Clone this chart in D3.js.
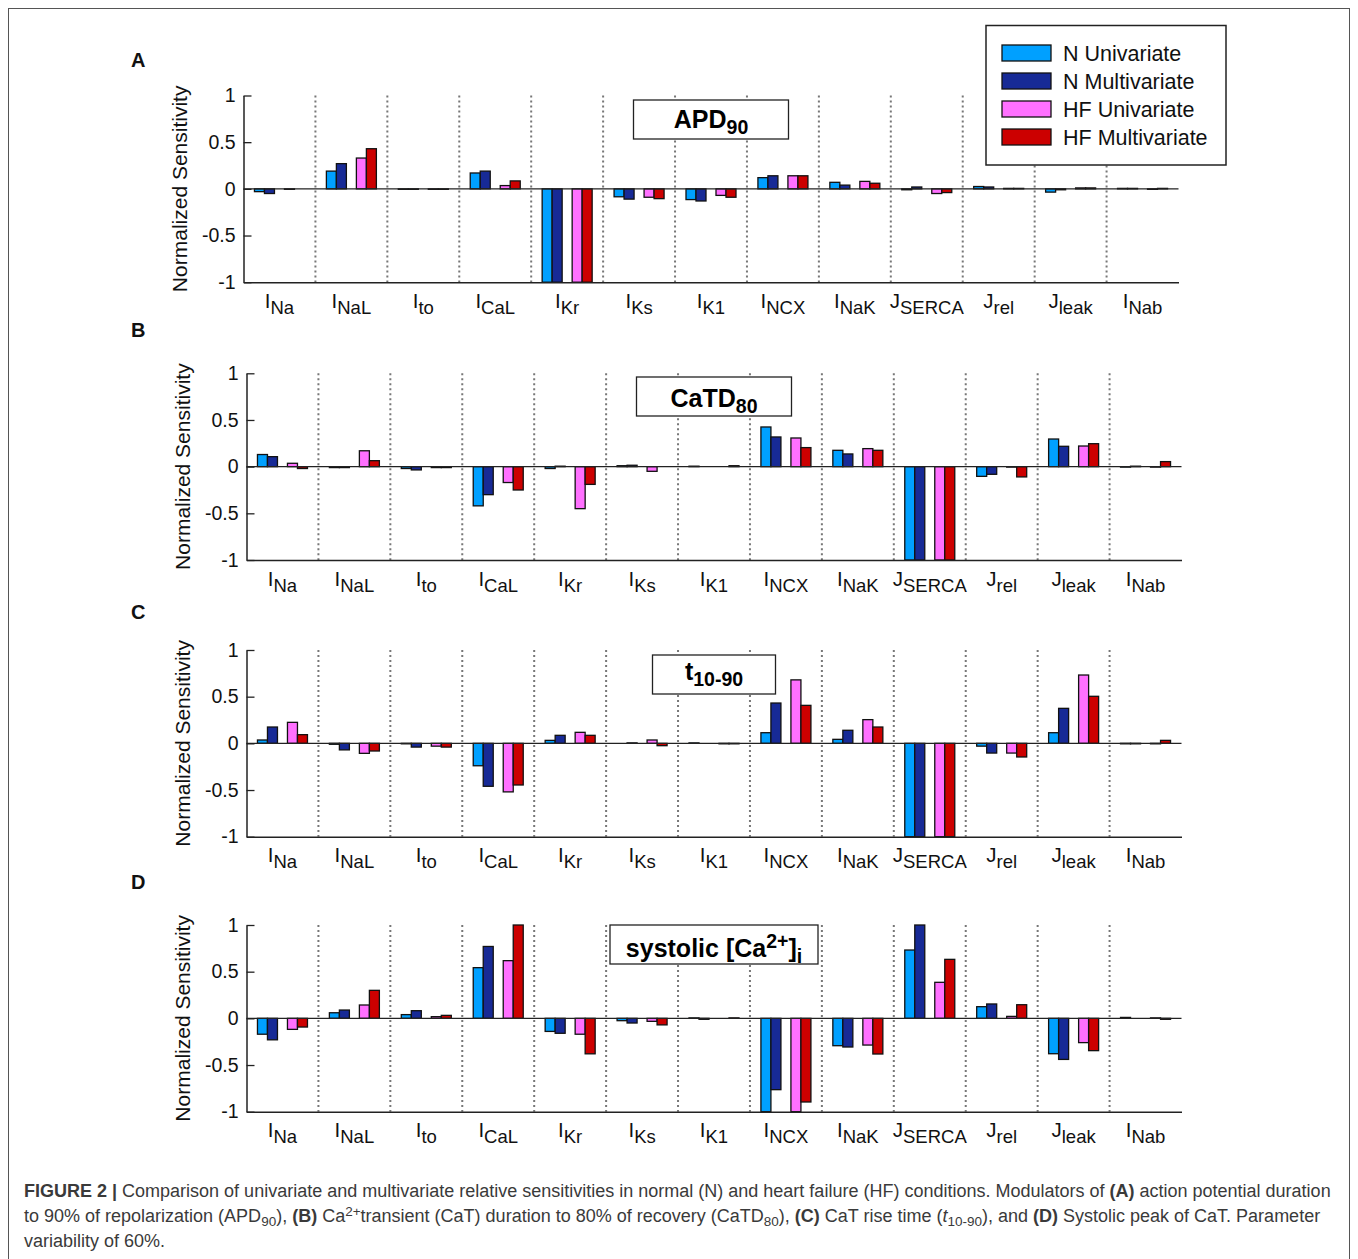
<!DOCTYPE html>
<html>
<head>
<meta charset="utf-8">
<script src="https://cdn.jsdelivr.net/npm/d3@7"></script>
<style>
  body { margin: 0; background: #fff; }
  svg { display: block; font-family: "Liberation Sans", Arial, sans-serif; }
</style>
</head>
<body>
<svg id="chart" width="1358" height="1259"></svg>
<script>
// categories: [main letter, subscript]
const categories = [["I","Na"],["I","NaL"],["I","to"],["I","CaL"],["I","Kr"],["I","Ks"],["I","K1"],
  ["I","NCX"],["I","NaK"],["J","SERCA"],["J","rel"],["J","leak"],["I","Nab"]];
const seriesNames = ["N Univariate","N Multivariate","HF Univariate","HF Multivariate"];
const seriesColors = ["#00a0ff","#172a96","#ff70ff","#cc0000"];
const yTicks = [1, 0.5, 0, -0.5, -1];
const yTickLabels = ["1","0.5","0","-0.5","-1"];

// (A) APD90
const apdNUni   = [-0.03, 0.19, -0.005, 0.17, -1, -0.085, -0.115, 0.12, 0.07, -0.01, 0.025, -0.035, 0.005];
const apdNMulti = [-0.05, 0.27, -0.005, 0.19, -1, -0.11, -0.13, 0.14, 0.04, 0.02, 0.02, -0.01, 0.005];
const apdHUni   = [-0.005, 0.33, -0.005, 0.035, -1, -0.09, -0.07, 0.14, 0.08, -0.05, 0.005, 0.01, -0.005];
const apdHMulti = [0, 0.43, -0.005, 0.085, -1, -0.105, -0.09, 0.14, 0.06, -0.04, 0.005, 0.01, 0.005];
// (B) CaTD80
const catdNUni   = [0.13, -0.01, -0.02, -0.42, -0.02, 0.01, 0.005, 0.425, 0.175, -1, -0.104, 0.296, -0.005];
const catdNMulti = [0.107, -0.01, -0.035, -0.30, 0.005, 0.015, 0, 0.318, 0.136, -1, -0.082, 0.218, 0.005];
const catdHUni   = [0.036, 0.17, -0.01, -0.17, -0.45, -0.05, 0, 0.307, 0.193, -1, -0.005, 0.221, -0.005];
const catdHMulti = [-0.02, 0.064, -0.01, -0.25, -0.19, 0, 0.01, 0.204, 0.175, -1, -0.11, 0.246, 0.054];
// (C) t10-90
const riseNUni   = [0.036, -0.01, -0.005, -0.24, 0.032, 0, 0.005, 0.114, 0.043, -1, -0.03, 0.114, -0.005];
const riseNMulti = [0.175, -0.07, -0.04, -0.46, 0.086, 0.005, 0, 0.432, 0.14, -1, -0.104, 0.375, -0.005];
const riseHUni   = [0.225, -0.107, -0.03, -0.52, 0.118, 0.036, -0.005, 0.68, 0.254, -1, -0.104, 0.732, -0.005];
const riseHMulti = [0.093, -0.082, -0.04, -0.446, 0.086, -0.025, -0.005, 0.407, 0.175, -1, -0.146, 0.504, 0.032];
// (D) systolic [Ca2+]i
const sysNUni   = [-0.17, 0.06, 0.04, 0.543, -0.14, -0.025, 0.005, -1, -0.293, 0.732, 0.125, -0.379, 0.01];
const sysNMulti = [-0.23, 0.089, 0.082, 0.77, -0.16, -0.05, -0.01, -0.764, -0.307, 1.0, 0.154, -0.44, 0];
const sysHUni   = [-0.118, 0.143, 0.018, 0.618, -0.17, -0.032, 0, -1, -0.286, 0.386, 0.021, -0.26, 0.005];
const sysHMulti = [-0.093, 0.30, 0.032, 1.0, -0.38, -0.07, 0.005, -0.896, -0.382, 0.632, 0.146, -0.346, -0.01];

const panels = [
  {letter: "A", letterY: 67, top: 95.5, left: 243.5, right: 1178.5, boxTop: 100, boxW: 155, base: 27.5,
   title: [{t: "APD"}, {t: "90", sub: true}], series: [apdNUni, apdNMulti, apdHUni, apdHMulti], legend: true},
  {letter: "B", letterY: 337, top: 373.3, left: 246.5, right: 1181.5, boxTop: 377, boxW: 155, base: 29.5,
   title: [{t: "CaTD"}, {t: "80", sub: true}], series: [catdNUni, catdNMulti, catdHUni, catdHMulti]},
  {letter: "C", letterY: 619, top: 650, left: 246.5, right: 1181.5, boxTop: 655, boxW: 123, base: 24.5,
   title: [{t: "t"}, {t: "10-90", sub: true}], series: [riseNUni, riseNMulti, riseHUni, riseHMulti]},
  {letter: "D", letterY: 889, top: 925, left: 246.5, right: 1181.5, boxTop: 925, boxW: 208, base: 31.5,
   title: [{t: "systolic [Ca"}, {t: "2+", sup: true}, {t: "]"}, {t: "i", sub: true}], series: [sysNUni, sysNMulti, sysHUni, sysHMulti]}
];

const plotH = 186.7;
const svg = d3.select("#chart");

svg.append("rect")
  .attr("x", 8.5).attr("y", 8.5).attr("width", 1341).attr("height", 1270)
  .attr("fill", "none").attr("stroke", "#555").attr("stroke-width", 1);

// writes sub/superscript tspans into a text node
function richText(text, parts, subSize, subShift) {
  let shift = 0;
  parts.forEach(p => {
    const target = p.sub ? subShift : p.sup ? -subShift * 1.4 : 0;
    const ts = text.append("tspan").text(p.t).attr("dy", target - shift);
    if (p.sub || p.sup) ts.attr("font-size", subSize);
    if (p.bold) ts.attr("font-weight", "bold");
    if (p.italic) ts.attr("font-style", "italic");
    shift = target;
  });
}

panels.forEach(p => {
  const g = svg.append("g");
  const bottom = p.top + plotH;

  const x = d3.scaleBand()
    .domain(d3.range(categories.length))
    .range([p.left, p.right])
    .padding(0);

  // five slots per category, the middle one left empty
  const xs = d3.scaleBand()
    .domain([0, 1, "gap", 2, 3])
    .range([-25, 25])
    .padding(0);

  const y = d3.scaleLinear()
    .domain([-1, 1])
    .range([bottom, p.top]);

  // dotted separators
  g.append("g").selectAll("line")
    .data(d3.range(1, categories.length))
    .join("line")
    .attr("x1", d => x(d)).attr("x2", d => x(d))
    .attr("y1", y(1)).attr("y2", y(-1))
    .attr("stroke", "#777")
    .attr("stroke-width", 2)
    .attr("stroke-dasharray", "2,3");

  // bars
  p.series.forEach((vals, si) => {
    g.append("g").selectAll("rect")
      .data(vals)
      .join("rect")
      .attr("x", (d, i) => x(i) + x.bandwidth() / 2 + xs(si))
      .attr("width", xs.bandwidth())
      .attr("y", d => y(Math.max(0, d)))
      .attr("height", d => Math.abs(y(d) - y(0)))
      .attr("fill", seriesColors[si])
      .attr("stroke", "#111")
      .attr("stroke-width", 1.3);
  });

  // zero line
  g.append("line")
    .attr("x1", p.left).attr("x2", p.right)
    .attr("y1", y(0)).attr("y2", y(0))
    .attr("stroke", "#222").attr("stroke-width", 1.3);

  // y axis with inward ticks
  const yAxis = g.append("g")
    .attr("transform", `translate(${p.left},0)`)
    .call(d3.axisLeft(y)
      .tickValues(yTicks)
      .tickFormat((d, i) => yTickLabels[i])
      .tickSizeInner(-8)
      .tickSizeOuter(0)
      .tickPadding(8));
  yAxis.select(".domain").attr("stroke", "#222").attr("stroke-width", 1.5);
  yAxis.selectAll(".tick line").attr("stroke", "#222").attr("stroke-width", 1.3);
  yAxis.selectAll(".tick text")
    .attr("font-size", 19.5)
    .attr("font-family", "Liberation Sans, Arial, sans-serif")
    .attr("fill", "#111");

  // x axis line only
  const xAxis = g.append("g")
    .attr("transform", `translate(0,${bottom})`)
    .call(d3.axisBottom(x).tickSize(0).tickFormat(() => ""));
  xAxis.select(".domain").attr("stroke", "#222").attr("stroke-width", 1.5);

  // category labels
  categories.forEach((c, i) => {
    const t = g.append("text")
      .attr("x", x(i) + x.bandwidth() / 2)
      .attr("y", bottom + 25.5)
      .attr("text-anchor", "middle")
      .attr("font-size", 20.5)
      .attr("fill", "#111");
    richText(t, [{t: c[0]}, {t: c[1], sub: true}], 18.5, 6);
  });

  // y label
  g.append("text")
    .attr("transform", `translate(${p.left - 57},${(p.top + bottom) / 2}) rotate(-90)`)
    .attr("text-anchor", "middle")
    .attr("font-size", 21)
    .attr("fill", "#111")
    .text("Normalized Sensitivity");

  // panel letter
  g.append("text")
    .attr("x", 131).attr("y", p.letterY)
    .attr("font-size", 20).attr("font-weight", "bold")
    .attr("fill", "#111")
    .text(p.letter);

  // title box
  const cx = (p.left + p.right) / 2;
  g.append("rect")
    .attr("x", cx - p.boxW / 2).attr("y", p.boxTop)
    .attr("width", p.boxW).attr("height", 39)
    .attr("fill", "#fff").attr("stroke", "#222").attr("stroke-width", 1.3);
  const tt = g.append("text")
    .attr("x", cx).attr("y", p.boxTop + p.base)
    .attr("text-anchor", "middle")
    .attr("font-size", 25).attr("font-weight", "bold")
    .attr("fill", "#000");
  richText(tt, p.title, 19.5, 6);

  if (p.legend) {
    const lg = g.append("g");
    lg.append("rect")
      .attr("x", 986).attr("y", 25.5).attr("width", 240).attr("height", 139.5)
      .attr("fill", "#fff").attr("stroke", "#222").attr("stroke-width", 1.5);
    seriesNames.forEach((name, i) => {
      lg.append("rect")
        .attr("x", 1002).attr("y", 45 + i * 28)
        .attr("width", 49).attr("height", 16)
        .attr("fill", seriesColors[i]).attr("stroke", "#111").attr("stroke-width", 1.3);
      lg.append("text")
        .attr("x", 1063).attr("y", 61 + i * 28)
        .attr("font-size", 21.5).attr("fill", "#111")
        .text(name);
    });
  }
});

// caption
const capLines = [
  [{t: "FIGURE 2 |", bold: true}, {t: " Comparison of univariate and multivariate relative sensitivities in normal (N) and heart failure (HF) conditions. Modulators of "},
   {t: "(A)", bold: true}, {t: " action potential duration"}],
  [{t: "to 90% of repolarization (APD"}, {t: "90", sub: true}, {t: "), "}, {t: "(B)", bold: true}, {t: " Ca"}, {t: "2+", sup: true},
   {t: "transient (CaT) duration to 80% of recovery (CaTD"}, {t: "80", sub: true}, {t: "), "}, {t: "(C)", bold: true},
   {t: " CaT rise time ("}, {t: "t", italic: true}, {t: "10-90", sub: true}, {t: "), and "}, {t: "(D)", bold: true},
   {t: " Systolic peak of CaT. Parameter"}],
  [{t: "variability of 60%."}]
];
capLines.forEach((parts, i) => {
  const t = svg.append("text")
    .attr("x", 24).attr("y", 1197 + i * 25)
    .attr("font-size", 18)
    .attr("fill", "#3a3a3a");
  richText(t, parts, 13.5, 4);
});
</script>
</body>
</html>
